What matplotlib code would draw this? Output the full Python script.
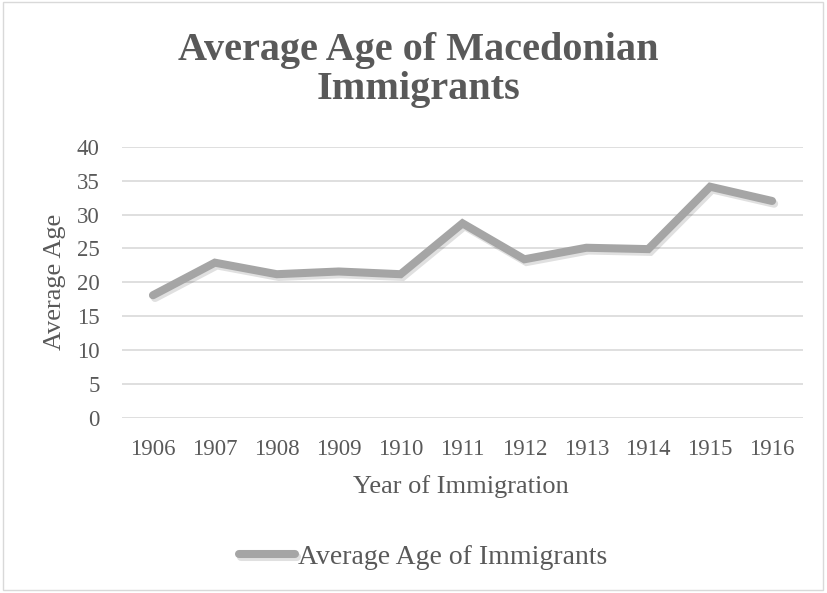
import matplotlib
matplotlib.use("Agg")
import matplotlib.pyplot as plt
import matplotlib.patheffects as pe
from matplotlib.patches import Rectangle

years = ["1906", "1907", "1908", "1909", "1910", "1911", "1912", "1913", "1914", "1915", "1916"]
avg_age = [18.1, 22.9, 21.2, 21.6, 21.2, 28.7, 23.4, 25.1, 24.9, 34.1, 32.0]
yticks = [0, 5, 10, 15, 20, 25, 30, 35, 40]

plt.rcParams['font.family'] = ['Liberation Serif', 'DejaVu Serif']
text_color = "#595959"
W, H = 827, 593

fig = plt.figure(figsize=(8.27, 5.93), dpi=100)
ax = fig.add_axes([122/W, 1 - 418/H, (803-122)/W, (418-146.7)/H])

x = list(range(len(years)))
ax.plot(x, avg_age, color="#A5A5A5", linewidth=5.8, solid_capstyle="round",
        solid_joinstyle="miter", label="Average Age of Immigrants",
        path_effects=[pe.SimpleLineShadow(offset=(1.5, -2), shadow_color="#000000", alpha=0.12),
                      pe.Normal()])

ax.set_xlim(-0.5, len(years) - 0.5)
ax.set_ylim(0, 40)
ax.set_yticks(yticks)
ax.set_xticks(x)
ax.set_xticklabels(years)
ax.grid(axis="y", color="#D9D9D9", linewidth=1.2)
ax.set_axisbelow(True)
for s in ax.spines.values():
    s.set_visible(False)
ax.tick_params(length=0, labelsize=16.5, colors=text_color)
ax.tick_params(axis="x", pad=15)
ax.tick_params(axis="y", pad=16)

fig.text(461/W, 1 - 487/H, "Year of Immigration", ha="center", va="center",
         fontsize=19, color=text_color)
fig.text(55/W, 1 - 282/H, "Average Age", ha="center", va="center", rotation=90,
         fontsize=19, color=text_color)

fig.text(418/W, 1 - 70/H, "Average Age of Macedonian\nImmigrants", ha="center", va="center",
         fontsize=29, fontweight="bold", color=text_color, linespacing=1.1)

leg = ax.legend(loc="center", bbox_to_anchor=((423 - 122) / (803 - 122), (418 - 557) / (418 - 146.7)),
                frameon=False, fontsize=20, handlelength=2.0, handletextpad=0.1)
for t in leg.get_texts():
    t.set_color(text_color)

fig.patches.append(Rectangle((3/W, 3/H), 820/W, 588/H, transform=fig.transFigure,
                             fill=False, edgecolor="#D9D9D9", linewidth=1.0))

fig.savefig("out.png", dpi=100)
